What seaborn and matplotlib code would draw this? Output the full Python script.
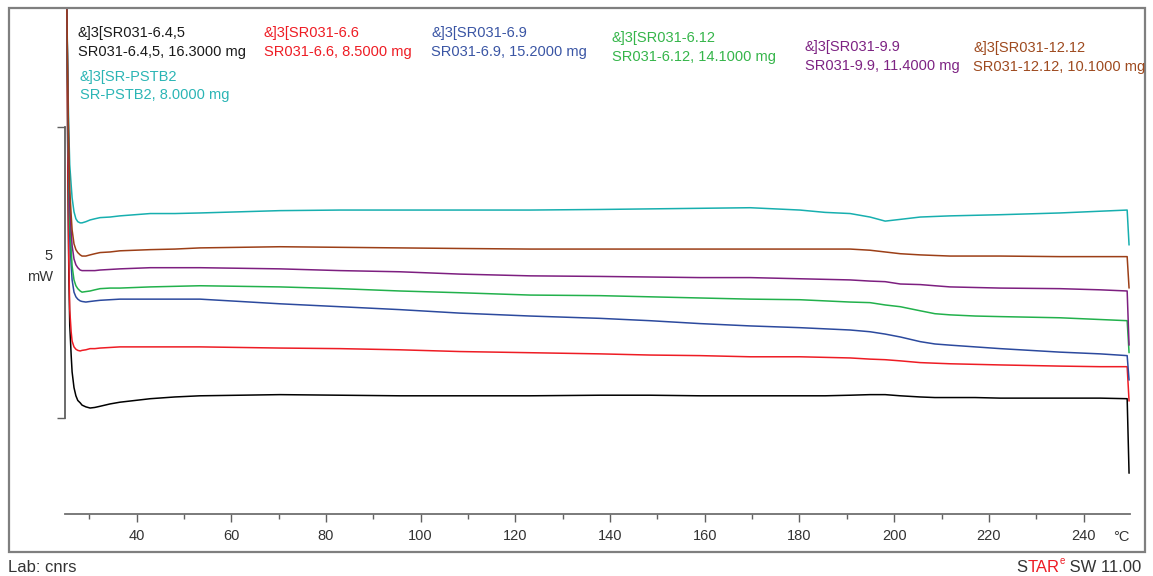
import numpy as np
import pandas as pd
import matplotlib
matplotlib.use("Agg")
import matplotlib.pyplot as plt
import seaborn as sns

# temperature grid (degC) shared by all curves
temp = [25.3, 25.5, 25.7, 25.9, 26.2, 26.4, 26.8, 27.2, 27.6, 28.1,
        28.5, 29.3, 30.2, 31.2, 32.3, 34.4, 36.5, 39.7, 42.9, 48.1,
        53.4, 61.9, 70.3, 83.0, 95.6, 108.3, 123.1, 137.9, 148.4, 159.0,
        169.6, 180.1, 185.4, 190.7, 194.9, 198.1, 201.3, 205.5, 208.6, 211.8,
        217.1, 222.4, 235.0, 243.5, 249.2, 249.6]

# heat flow (mW)
hf_645 = [7.01, 4.26, 2.54, 1.60, 1.08, 0.79, 0.52, 0.38, 0.30, 0.26,
          0.22, 0.19, 0.17, 0.18, 0.20, 0.24, 0.27, 0.30, 0.33, 0.36,
          0.38, 0.39, 0.40, 0.39, 0.38, 0.38, 0.38, 0.39, 0.39, 0.38,
          0.38, 0.38, 0.38, 0.39, 0.40, 0.40, 0.38, 0.36, 0.35, 0.35,
          0.35, 0.34, 0.34, 0.34, 0.33, -0.95]
hf_pstb2 = [7.01, 5.81, 4.95, 4.35, 4.00, 3.78, 3.54, 3.42, 3.37, 3.35,
            3.35, 3.37, 3.40, 3.42, 3.44, 3.45, 3.47, 3.49, 3.51, 3.51,
            3.52, 3.54, 3.56, 3.57, 3.57, 3.57, 3.57, 3.58, 3.59, 3.60,
            3.61, 3.57, 3.53, 3.51, 3.45, 3.38, 3.41, 3.45, 3.46, 3.47,
            3.48, 3.49, 3.52, 3.55, 3.57, 2.97]
hf_66 = [7.01, 4.43, 2.71, 1.86, 1.48, 1.32, 1.22, 1.18, 1.16, 1.15,
         1.16, 1.17, 1.19, 1.19, 1.20, 1.21, 1.22, 1.22, 1.22, 1.22,
         1.22, 1.21, 1.20, 1.19, 1.17, 1.14, 1.12, 1.10, 1.08, 1.07,
         1.05, 1.05, 1.04, 1.03, 1.01, 1.00, 0.98, 0.95, 0.94, 0.93,
         0.92, 0.91, 0.89, 0.88, 0.88, 0.29]
hf_69 = [7.01, 5.38, 4.09, 3.14, 2.63, 2.37, 2.16, 2.08, 2.04, 2.01,
         2.00, 1.99, 2.00, 2.01, 2.02, 2.03, 2.04, 2.04, 2.04, 2.04,
         2.04, 2.00, 1.96, 1.91, 1.86, 1.80, 1.75, 1.71, 1.67, 1.62,
         1.58, 1.55, 1.53, 1.51, 1.48, 1.44, 1.39, 1.31, 1.27, 1.25,
         1.22, 1.19, 1.13, 1.10, 1.07, 0.65]
hf_612 = [7.01, 5.46, 4.26, 3.40, 2.89, 2.61, 2.37, 2.27, 2.22, 2.18,
          2.16, 2.17, 2.18, 2.20, 2.22, 2.23, 2.23, 2.24, 2.25, 2.26,
          2.27, 2.26, 2.25, 2.22, 2.18, 2.15, 2.11, 2.10, 2.08, 2.06,
          2.04, 2.03, 2.01, 1.99, 1.98, 1.94, 1.91, 1.84, 1.79, 1.77,
          1.75, 1.74, 1.72, 1.69, 1.67, 1.12]
hf_99 = [7.01, 5.55, 4.43, 3.66, 3.20, 2.96, 2.73, 2.63, 2.58, 2.54,
         2.53, 2.53, 2.53, 2.53, 2.54, 2.55, 2.56, 2.57, 2.58, 2.58,
         2.58, 2.57, 2.56, 2.53, 2.51, 2.47, 2.44, 2.43, 2.42, 2.41,
         2.41, 2.39, 2.38, 2.37, 2.35, 2.34, 2.30, 2.29, 2.27, 2.25,
         2.24, 2.23, 2.22, 2.20, 2.18, 1.25]
hf_1212 = [7.01, 5.64, 4.60, 3.92, 3.49, 3.23, 2.99, 2.89, 2.84, 2.80,
           2.78, 2.78, 2.80, 2.82, 2.84, 2.85, 2.87, 2.88, 2.89, 2.90,
           2.92, 2.93, 2.94, 2.93, 2.92, 2.91, 2.90, 2.90, 2.90, 2.90,
           2.90, 2.90, 2.90, 2.90, 2.88, 2.85, 2.82, 2.80, 2.79, 2.78,
           2.78, 2.78, 2.77, 2.77, 2.77, 2.23]

samples = ["SR031-6.4,5", "SR-PSTB2", "SR031-6.6", "SR031-6.9", "SR031-6.12", "SR031-9.9", "SR031-12.12"]
masses = ["16.3000", "8.0000", "8.5000", "15.2000", "14.1000", "11.4000", "10.1000"]
line_colors = ["#000000", "#17AFAF", "#EE1C24", "#2C4A9E", "#22B14C", "#7D1F80", "#9C3F17"]
text_colors = ["#1a1a1a", "#2BB5B5", "#EE1C24", "#3A55A4", "#35B54A", "#7D2383", "#9E4A1F"]
# legend anchor (pixel x, baseline of first line, baseline of second line)
legend_pos = [(78, 37, 56), (80, 81, 99), (264, 37, 56), (431, 37, 56),
              (612, 42, 61), (805, 51, 70), (973, 52, 71)]

curves = [hf_645, hf_pstb2, hf_66, hf_69, hf_612, hf_99, hf_1212]
df = pd.concat([pd.DataFrame({"T": temp, "HF": c, "sample": s}) for s, c in zip(samples, curves)])

W, H = 1153, 576
def fx(px):
    return px / W
def fy(py):
    return 1 - py / H

sns.set_style("white")
plt.rcParams['font.family'] = ['Liberation Sans', 'DejaVu Sans']

fig = plt.figure(figsize=(W / 100, H / 100), dpi=100)
ax = fig.add_axes([fx(65), fy(514), (1130 - 65) / W, (514 - 8) / H])

sns.lineplot(data=df, x="T", y="HF", hue="sample", palette=dict(zip(samples, line_colors)),
             estimator=None, sort=False, linewidth=1.1, legend=False, ax=ax)

ax.set_xlim(24.9, 249.8)
ax.set_ylim(-1.65, 7.04)
ax.set_xlabel("")
ax.set_ylabel("")

for s in ["top", "right"]:
    ax.spines[s].set_visible(False)
ax.spines["bottom"].set_color("#707070")
ax.spines["bottom"].set_linewidth(1.3)
ax.spines["left"].set_color("#606060")
ax.spines["left"].set_linewidth(1.3)
ax.spines["left"].set_bounds(0, 5)

ax.set_xticks(range(40, 241, 20))
ax.set_xticks(range(30, 240, 20), minor=True)
ax.tick_params(axis="x", which="major", bottom=True, direction="out", length=5.8, width=1.0,
               color="#606060", labelsize=10.5, labelcolor="#333333", pad=5)
ax.tick_params(axis="x", which="minor", bottom=True, direction="out", length=3.6, width=1.0,
               color="#606060")
ax.set_yticks([0, 5])
ax.set_yticklabels([])
ax.tick_params(axis="y", left=True, direction="out", length=5.8, width=1.0, color="#606060")

# scale bar label
fig.text(fx(53), fy(260), "5", ha="right", va="baseline", fontsize=10.5, color="#333333")
fig.text(fx(53), fy(281), "mW", ha="right", va="baseline", fontsize=10.5, color="#333333")
fig.text(fx(1113), fy(541), "°C", ha="left", va="baseline", fontsize=10.5, color="#333333")

# sample labels
for s, m, c, (px, b1, b2) in zip(samples, masses, text_colors, legend_pos):
    fig.text(fx(px), fy(b1), "&]3[" + s, ha="left", va="baseline", fontsize=10.5, color=c)
    fig.text(fx(px), fy(b2), s + ", " + m + " mg", ha="left", va="baseline", fontsize=10.5, color=c)

# outer frame
fig.add_artist(plt.Rectangle((fx(9), fy(552)), (1145 - 9) / W, (552 - 8) / H, fill=False,
                             ec="#7f7f7f", lw=1.6, transform=fig.transFigure))

# footer
fig.text(fx(8), fy(572), "Lab: cnrs", ha="left", va="baseline", fontsize=12, color="#333333")
t_sw = ax.annotate(" SW 11.00", xy=(fx(1141), fy(572)), xycoords="figure fraction",
                   ha="right", va="baseline", fontsize=12, color="#333333", annotation_clip=False)
t_e = ax.annotate("e", xy=(0, 0.62), xycoords=t_sw, ha="right", va="bottom",
                  fontsize=7, color="#EE1C24", annotation_clip=False)
t_tar = ax.annotate("TAR", xy=(0, 0), xycoords=(t_e, t_sw), ha="right", va="bottom",
                    fontsize=12, color="#EE1C24", annotation_clip=False)
ax.annotate("S", xy=(0, 0), xycoords=(t_tar, t_sw), ha="right", va="bottom",
            fontsize=12, color="#333333", annotation_clip=False)

fig.savefig("out.png", dpi=100)
